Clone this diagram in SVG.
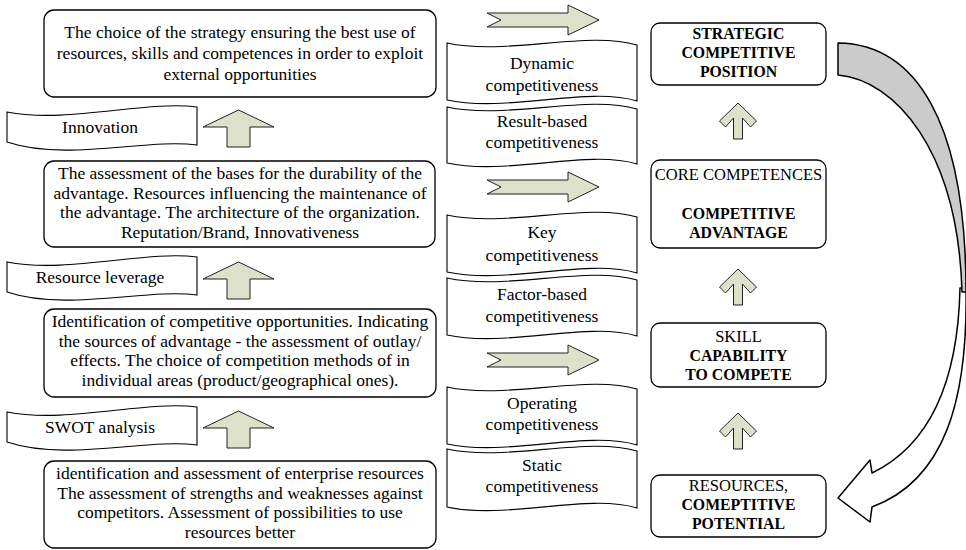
<svg xmlns="http://www.w3.org/2000/svg" width="966" height="550" viewBox="0 0 966 550" font-family="'Liberation Serif', Tinos, 'DejaVu Serif', serif">
  <style>
    .t { font-family: "Liberation Serif", Tinos, "DejaVu Serif", serif; font-size: 17.5px; text-anchor: middle; fill: #000; }
    .r { font-family: "Liberation Serif", Tinos, "DejaVu Serif", serif; font-size: 16.5px; text-anchor: middle; fill: #000; }
    .b { font-family: "Liberation Serif", Tinos, "DejaVu Serif", serif; font-size: 15.8px; font-weight: bold; text-anchor: middle; fill: #000; }
    .box { fill: #fff; stroke: #000; stroke-width: 1.3; }
    .wave { fill: #fff; stroke: #000; stroke-width: 1.1; }
    .arr { fill: #dde0ca; stroke: #222; stroke-width: 1; }
  </style>
  <defs>
    <!-- broad block arrow pointing up, tip at (0,0) -->
    <path id="upBig" d="M0,0 L35.5,17 L11.5,17 L11.5,37 L-11.5,37 L-11.5,17 L-35.5,17 Z"/>
    <!-- slim arrow with chevron head, tip at (0,0) -->
    <path id="upSmall" d="M0,0 L18.5,18 L12.5,24 L4.5,15 L4.5,36 L-4.5,36 L-4.5,15 L-12.5,24 L-18.5,18 Z"/>
  </defs>

  <!-- left column: analysis steps -->
  <g id="strategy-choice">
    <rect class="box" x="44" y="10" width="392" height="87" rx="10"/>
    <text class="t" x="240" y="37.5">The choice of the strategy ensuring the best use of</text>
    <text class="t" x="240" y="58.5">resources, skills and competences in order to exploit</text>
    <text class="t" x="240" y="79.5">external opportunities</text>
  </g>
  <g id="innovation">
    <path class="wave" d="M7,112 C67,124 147,100 197,107 L197,145 C147,138 67,162 7,142 Z"/>
    <text class="t" x="100" y="133">Innovation</text>
  </g>
  <g id="durability">
    <rect class="box" x="44" y="161" width="391" height="86" rx="10"/>
    <text class="t" x="240" y="179">The assessment of the bases for the durability of the</text>
    <text class="t" x="240" y="198.5">advantage. Resources influencing the maintenance of</text>
    <text class="t" x="240" y="218">the advantage. The architecture of the organization.</text>
    <text class="t" x="240" y="237.5">Reputation/Brand, Innovativeness</text>
  </g>
  <g id="resource-leverage">
    <path class="wave" d="M7,262 C67,274 147,250 197,257 L197,295 C147,288 67,312 7,292 Z"/>
    <text class="t" x="100" y="283">Resource leverage</text>
  </g>
  <g id="opportunities">
    <rect class="box" x="44" y="309" width="392" height="88" rx="10"/>
    <text class="t" x="240" y="327">Identification of competitive opportunities. Indicating</text>
    <text class="t" x="240" y="346.5">the sources of advantage - the assessment of outlay/</text>
    <text class="t" x="240" y="366">effects. The choice of competition methods of in</text>
    <text class="t" x="240" y="385.5">individual areas (product/geographical ones).</text>
  </g>
  <g id="swot">
    <path class="wave" d="M7,412 C67,424 147,400 197,407 L197,445 C147,438 67,462 7,442 Z"/>
    <text class="t" x="100" y="433">SWOT analysis</text>
  </g>
  <g id="resources-assessment">
    <rect class="box" x="44" y="461" width="392" height="87" rx="10"/>
    <text class="t" x="240" y="479">identification and assessment of enterprise resources</text>
    <text class="t" x="240" y="498.5">The assessment of strengths and weaknesses against</text>
    <text class="t" x="240" y="518">competitors. Assessment of possibilities to use</text>
    <text class="t" x="240" y="537.5">resources better</text>
  </g>

  <!-- middle column: kinds of competitiveness -->
  <g id="dynamic">
    <path class="wave" d="M447,43 C507,56 587,30 637,45 L637,101 C587,86 507,113 447,100 Z"/>
    <text class="t" x="542" y="69">Dynamic</text>
    <text class="t" x="542" y="91">competitiveness</text>
  </g>
  <g id="result-based">
    <path class="wave" d="M447,107 C507,120 587,94 637,109 L637,164 C587,149 507,176 447,163 Z"/>
    <text class="t" x="542" y="127">Result-based</text>
    <text class="t" x="542" y="148">competitiveness</text>
  </g>
  <g id="key">
    <path class="wave" d="M447,215 C507,228 587,202 637,217 L637,273 C587,258 507,285 447,272 Z"/>
    <text class="t" x="542" y="238">Key</text>
    <text class="t" x="542" y="261">competitiveness</text>
  </g>
  <g id="factor-based">
    <path class="wave" d="M447,278 C507,291 587,265 637,280 L637,336 C587,321 507,348 447,335 Z"/>
    <text class="t" x="542" y="300">Factor-based</text>
    <text class="t" x="542" y="322">competitiveness</text>
  </g>
  <g id="operating">
    <path class="wave" d="M447,387 C507,400 587,374 637,389 L637,445 C587,430 507,457 447,444 Z"/>
    <text class="t" x="542" y="409">Operating</text>
    <text class="t" x="542" y="430">competitiveness</text>
  </g>
  <g id="static">
    <path class="wave" d="M447,449 C507,462 587,436 637,451 L637,508 C587,493 507,520 447,507 Z"/>
    <text class="t" x="542" y="471">Static</text>
    <text class="t" x="542" y="492">competitiveness</text>
  </g>

  <!-- right column: competitive position ladder -->
  <g id="strategic-position">
    <rect class="box" x="651" y="23" width="175" height="62" rx="9"/>
    <text class="b" x="738.5" y="39">STRATEGIC</text>
    <text class="b" x="738.5" y="58">COMPETITIVE</text>
    <text class="b" x="738.5" y="77">POSITION</text>
  </g>
  <g id="core-competences">
    <rect class="box" x="651" y="160" width="175" height="88" rx="9"/>
    <text class="r" x="738.5" y="180">CORE COMPETENCES</text>
    <text class="b" x="738.5" y="219">COMPETITIVE</text>
    <text class="b" x="738.5" y="238">ADVANTAGE</text>
  </g>
  <g id="skill">
    <rect class="box" x="651" y="323" width="175" height="64" rx="9"/>
    <text class="r" x="738.5" y="342">SKILL</text>
    <text class="b" x="738.5" y="361">CAPABILITY</text>
    <text class="b" x="738.5" y="380">TO COMPETE</text>
  </g>
  <g id="resources">
    <rect class="box" x="651" y="475" width="175" height="62" rx="9"/>
    <text class="r" x="738.5" y="491">RESOURCES,</text>
    <text class="b" x="738.5" y="510">COMEPTITIVE</text>
    <text class="b" x="738.5" y="529">POTENTIAL</text>
  </g>

  <!-- connectors -->
  <g id="connectors">
    <use href="#upBig" class="arr" x="238.5" y="110"/>
    <use href="#upBig" class="arr" x="238.5" y="262"/>
    <use href="#upBig" class="arr" x="238.5" y="411"/>

    <path class="arr" d="M487,13 L568,13 L568,5 L599,20 L568,35 L568,27 L487,27 L501,20 Z"/>
    <path class="arr" d="M487,180 L568,180 L568,172 L599,187 L568,202 L568,194 L487,194 L501,187 Z"/>
    <path class="arr" d="M487,353 L568,353 L568,345 L599,360 L568,375 L568,367 L487,367 L501,360 Z"/>

    <use href="#upSmall" class="arr" x="738" y="103"/>
    <use href="#upSmall" class="arr" x="738" y="269"/>
    <use href="#upSmall" class="arr" x="738" y="413"/>

    <!-- return arrow from position back to resources -->
    <path d="M960,288 C958,380 930,445 872,473 L870,460 L838,498 L870,522 L872,507 C945,480 968,400 966,288 Z" fill="#fff" stroke="#000" stroke-width="1.5" stroke-linejoin="round"/>
    <path d="M838,43 C915,44 966,120 966,292 L962,292 C958,150 895,80 838,75 Z" fill="#cbcbcb" stroke="#000" stroke-width="1.5" stroke-linejoin="round"/>
  </g>
</svg>
